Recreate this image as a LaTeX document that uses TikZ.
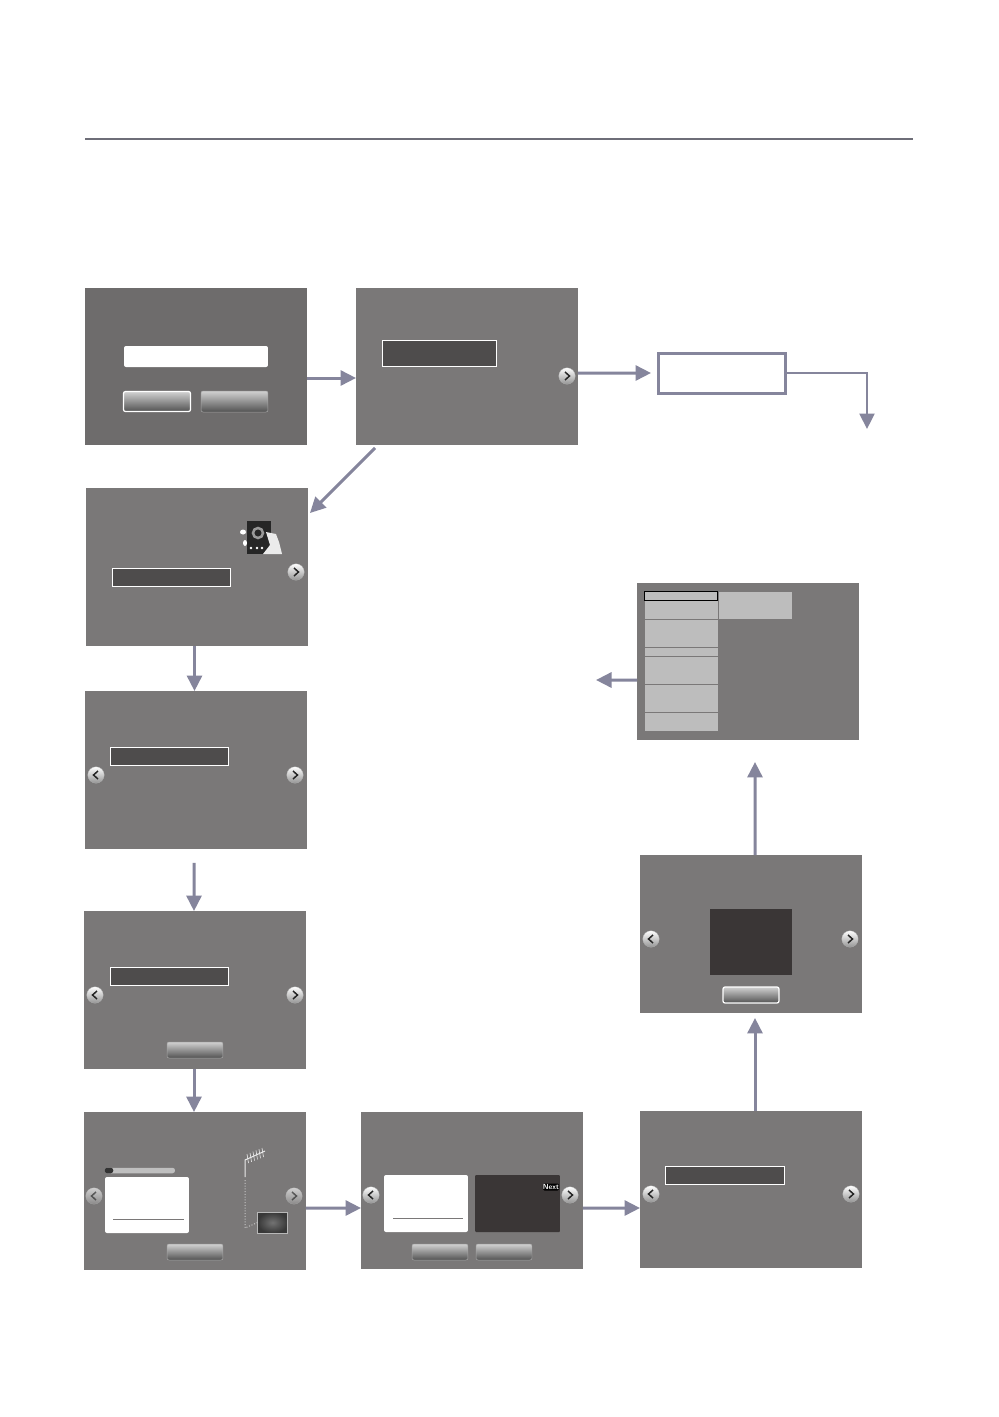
\documentclass[tikz,border=0pt]{standalone}
\usetikzlibrary{positioning, arrows.meta, shapes.geometric, calc}
\usepackage{xcolor}
\definecolor{scrgray}{HTML}{7A7878}
\definecolor{scrdark}{HTML}{6E6C6C}
\definecolor{barblue}{HTML}{85859C}
\definecolor{hlgray}{HTML}{4E4C4C}
\definecolor{tvdark}{HTML}{3A3636}
\definecolor{menugray}{HTML}{BDBDBD}
\definecolor{rulegray}{HTML}{6E6E78}

\begin{document}
\begin{tikzpicture}[
      x=0.02cm, y=-0.02cm,
      every node/.style={inner sep=0pt, outer sep=0pt},
      panel/.style={fill=scrgray, minimum width=4.44cm, minimum height=3.14cm},
      hlbox/.style={fill=hlgray, draw=white, line width=0.02cm,
                    minimum width=2.36cm, minimum height=0.36cm},
      btn/.style={rounded corners=0.04cm, top color=black!18, bottom color=black!68,
                  draw=black!35, line width=0.01cm,
                  minimum width=1.12cm, minimum height=0.32cm},
      btnsel/.style={btn, draw=white, line width=0.025cm},
      whitebox/.style={fill=white, rounded corners=0.04cm},
      navball/.style={circle, minimum size=0.33cm, top color=white,
                      bottom color=black!42, draw=black!30, line width=0.005cm},
      navnext/.style={navball, path picture={
          \draw[line width=0.03cm, black!85]
            ([xshift=-0.04cm,yshift=0.08cm]path picture bounding box.center)
            -- ([xshift=0.05cm]path picture bounding box.center)
            -- ([xshift=-0.04cm,yshift=-0.08cm]path picture bounding box.center);}},
      navprev/.style={navball, path picture={
          \draw[line width=0.03cm, black!85]
            ([xshift=0.04cm,yshift=0.08cm]path picture bounding box.center)
            -- ([xshift=-0.05cm]path picture bounding box.center)
            -- ([xshift=0.04cm,yshift=-0.08cm]path picture bounding box.center);}},
      menurow/.style={fill=menugray, minimum width=1.46cm},
      flow/.style={-{Triangle[length=0.31cm,width=0.3cm]}, barblue, line width=0.06cm},
      flowthin/.style={flow, line width=0.045cm},
    ]
    \useasboundingbox (0,0) rectangle (998,1417);
    \fill[white] (0,0) rectangle (998,1417);

    % heading rule
    \coordinate (rulel) at (85,139);
    \coordinate (ruler) at (913,139);
    \draw[rulegray, line width=0.035cm] (rulel) -- (ruler);

    % screens
    \node[panel, fill=scrdark] (pa) at (196,366.5) {};
    \node[panel] (pb) at (467,366.5) {};
    \node[panel, minimum height=3.16cm] (pc) at (197,567) {};
    \node[panel, minimum height=3.16cm] (pd) at (196,770) {};
    \node[panel, minimum height=3.16cm] (pe) at (195,990) {};
    \node[panel, minimum height=3.16cm] (pf) at (195,1191) {};
    \node[panel] (pg) at (472,1190.5) {};
    \node[panel] (ph) at (751,1189.5) {};
    \node[panel, minimum height=3.16cm] (pi) at (751,934) {};
    \node[panel] (pj) at (748,661.5) {};

    % screen a
    \node[whitebox, minimum width=2.88cm, minimum height=0.42cm] (afield) at (196,356.5) {};
    \node[btnsel, minimum width=1.34cm, minimum height=0.4cm] (abtnl) at (157,401.5) {};
    \node[btn, minimum width=1.34cm, minimum height=0.42cm] (abtnr) at (234.5,401.5) {};

    % screen b
    \node[hlbox, minimum width=2.3cm, minimum height=0.52cm] (bhl) at (439.5,353) {};
    \node[navnext] (bnext) at (567,376) {};

    % screen c
    \node[hlbox] (chl) at (171.5,577.5) {};
    \node[navnext] (cnext) at (296,572) {};
    \node[fill=black!85, minimum width=0.48cm, minimum height=0.66cm] (cicon) at (259,537.5) {};
    \draw[black!40, line width=0.05cm] (258,533) circle (5);
    \fill[white] (243,532) ellipse (3 and 2.5);
    \fill[white] (245,543) ellipse (2 and 3);
    \fill[white!92!black] (266,532) -- (276,534) -- (279,542) -- (282,554) -- (263,554)
      -- (270,545) -- cycle;
    \foreach \dotx in {251,257,262}
      \fill[white] (\dotx,548) circle (1.3);

    % screen d
    \node[hlbox] (dhl) at (169.5,756.5) {};
    \node[navprev] (dprev) at (96,775) {};
    \node[navnext] (dnext) at (295,775) {};

    % screen e
    \node[hlbox] (ehl) at (169.5,976) {};
    \node[navprev] (eprev) at (95,995) {};
    \node[navnext] (enext) at (295,995) {};
    \node[btn] (ebtn) at (195,1050) {};

    % screen f
    \node[fill=black!25, rounded corners=0.05cm, minimum width=1.4cm, minimum height=0.11cm] (fbar) at (140,1170.5) {};
    \node[fill=black!80, rounded corners=0.05cm, minimum width=0.17cm, minimum height=0.11cm] (fdot) at (109,1170.5) {};
    \node[whitebox, minimum width=1.68cm, minimum height=1.12cm] (fcard) at (147,1205) {};
    \draw[scrgray, line width=0.02cm] (113,1219) -- (184,1219);
    \node[navprev, opacity=0.65] (fprev) at (94,1196) {};
    \node[navnext, opacity=0.65] (fnext) at (294,1196) {};
    \node[btn] (fbtn) at (195,1252) {};
    \node[draw=black!28, line width=0.02cm, inner color=black!55, outer color=black!78,
          minimum width=0.6cm, minimum height=0.42cm] (ftv) at (272.5,1222.5) {};
    \draw[black!8, line width=0.02cm] (245,1177) -- (245,1160) -- (265,1151);
    \foreach \elx in {0,1,2,3,4,5}
      \draw[black!8, line width=0.012cm] (247+3*\elx,1154-1.2*\elx) -- ++(1.5,9);
    \draw[black!22, line width=0.02cm, densely dotted] (245,1180) -- (245,1228) -- (ftv.west);

    % screen g
    \node[whitebox, minimum width=1.68cm, minimum height=1.14cm] (gcard) at (426,1203.5) {};
    \draw[scrgray, line width=0.02cm] (393,1218) -- (463,1218);
    \node[fill=tvdark, rounded corners=0.02cm, minimum width=1.7cm, minimum height=1.14cm] (gdark) at (517.5,1203.5) {};
    \node[fill=black, text=white, font=\sffamily\fontsize{4.2}{5}\selectfont\bfseries,
          rounded corners=0.03cm, minimum width=0.27cm, minimum height=0.14cm] (gnexttxt) at (551,1187) {Next};
    \node[navprev] (gprev) at (371,1195) {};
    \node[navnext] (gnext) at (570,1195) {};
    \node[btn] (gbtnl) at (440,1252) {};
    \node[btn] (gbtnr) at (504,1252) {};

    % screen h
    \node[hlbox, minimum width=2.38cm] (hhl) at (725,1175.5) {};
    \node[navprev] (hprev) at (651,1194) {};
    \node[navnext] (hnext) at (851,1194) {};

    % screen i
    \node[fill=tvdark, minimum width=1.64cm, minimum height=1.32cm] (idark) at (751,942) {};
    \node[btnsel] (ibtn) at (751,995) {};
    \node[navprev] (iprev) at (651,939) {};
    \node[navnext] (inext) at (850,939) {};

    % screen j, menu column
    \node[menurow, minimum height=0.36cm] (jrow2) at (681.5,610) {};
    \node[menurow, minimum height=0.54cm] (jrow3) at (681.5,633.5) {};
    \node[menurow, minimum height=0.16cm] (jrow4) at (681.5,652) {};
    \node[menurow, minimum height=0.54cm] (jrow5) at (681.5,670.5) {};
    \node[menurow, minimum height=0.54cm] (jrow6) at (681.5,698.5) {};
    \node[menurow, minimum height=0.36cm] (jrow7) at (681.5,722) {};
    \node[menurow, minimum height=0.18cm, draw=black, line width=0.025cm] (jrow1) at (681,596) {};
    \node[fill=menugray, minimum width=1.46cm, minimum height=0.54cm] (jside) at (755.5,605.5) {};

    % white box upper right
    \node[draw=barblue, fill=white, line width=0.06cm, minimum width=2.56cm, minimum height=0.8cm] (notebox) at (722,373) {};

    % free ends
    \coordinate (noteend) at (867,429);
    \coordinate (jend) at (596,680);

    % flow
    \draw[flow] ([yshift=-0.23cm]pa.east) -- ([yshift=-0.23cm]pb.west);
    \draw[flow, shorten >=0.14cm] ([yshift=-0.13cm]pb.east) -- (notebox.west);
    \draw[flowthin] (notebox.east) -| (noteend);
    \draw[flow] ([xshift=0.38cm,yshift=-0.06cm]pb.south west) -- ([xshift=0.04cm,yshift=-0.5cm]pc.north east);
    \draw[flow] ([xshift=-0.05cm]pc.south) -- ([xshift=-0.03cm]pd.north);
    \draw[flow, shorten <=0.28cm] ([xshift=-0.04cm]pd.south) -- ([xshift=-0.02cm]pe.north);
    \draw[flow] ([xshift=-0.02cm]pe.south) -- ([xshift=-0.02cm]pf.north);
    \draw[flow] ([yshift=-0.34cm]pf.east) -- ([yshift=-0.35cm]pg.west);
    \draw[flow] ([yshift=-0.35cm]pg.east) -- ([yshift=-0.37cm]ph.west);
    \draw[flow, shorten >=0.1cm] ([xshift=0.08cm]ph.north) -- ([xshift=0.08cm]pi.south);
    \draw[flow, shorten >=0.44cm] ([xshift=0.08cm]pi.north) -- ([xshift=0.14cm]pj.south);
    \draw[flow] ([yshift=-0.37cm]pj.west) -- (jend);
  \end{tikzpicture}
\end{document}
